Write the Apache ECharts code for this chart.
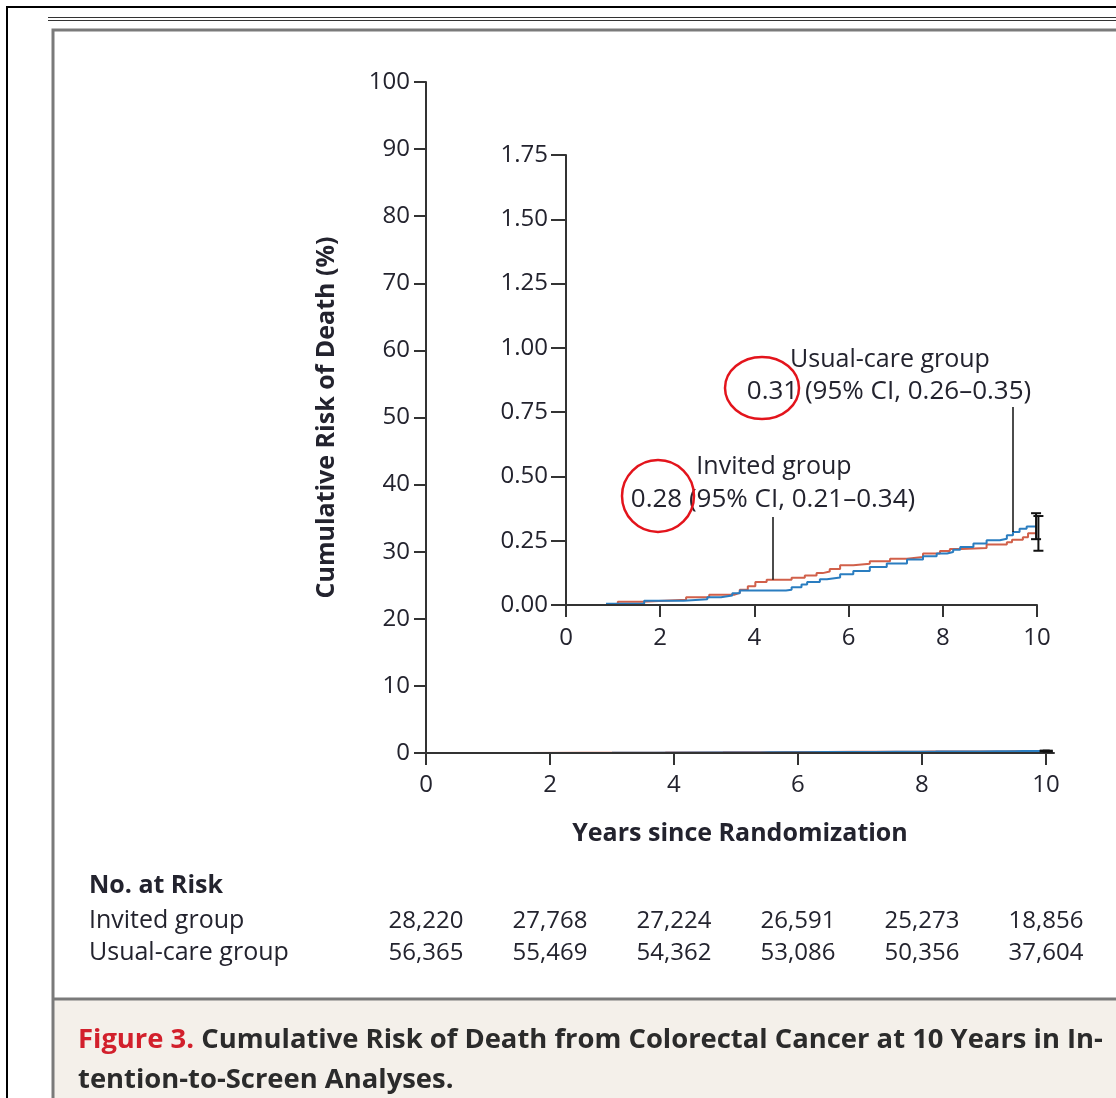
<!DOCTYPE html>
<html>
<head>
<meta charset="utf-8">
<script src="https://cdn.jsdelivr.net/npm/echarts@6/dist/echarts.min.js"></script>
<style>html,body{margin:0;padding:0;background:#fff}#c{width:1116px;height:1098px}</style>
</head>
<body>
<div id="c"></div>
<script>
// ---- data ----
const invitedCurve = [[1.0,0.004],[1.1,0.013],[1.62,0.02],[2.55,0.03],[3.04,0.04],[3.57,0.047],[3.69,0.059],[3.86,0.073],[4.02,0.089],[4.26,0.098],[4.79,0.106],[5.07,0.115],[5.32,0.124],[5.45,0.13],[5.6,0.14],[5.82,0.155],[6.1,0.16],[6.45,0.17],[6.88,0.18],[7.24,0.187],[7.58,0.2],[7.94,0.21],[8.15,0.218],[8.4,0.222],[8.93,0.235],[9.36,0.244],[9.47,0.254],[9.7,0.263],[9.81,0.279],[10.0,0.28]];
const usualCurve = [[0.85,0.005],[1.66,0.017],[2.5,0.022],[3.0,0.03],[3.29,0.037],[3.53,0.046],[3.69,0.056],[4.67,0.059],[4.79,0.069],[5.0,0.08],[5.12,0.089],[5.39,0.1],[5.54,0.107],[5.82,0.12],[6.1,0.132],[6.45,0.148],[6.81,0.161],[7.24,0.177],[7.58,0.19],[7.87,0.2],[8.09,0.206],[8.22,0.215],[8.37,0.226],[8.65,0.239],[8.93,0.252],[9.21,0.258],[9.36,0.271],[9.49,0.284],[9.63,0.297],[9.78,0.305],[10.0,0.305]];
const errorBars = [[9.98,0.256,0.357],[10.03,0.211,0.346]]; // [year, low, high]
const leaderUsual = [9.49, 0.284, 0.77];
const leaderInvited = [4.4, 0.098, 0.342];
const xTickYears = [0,2,4,6,8,10];
const atRiskYears = [0,2,4,6,8,10];
const invitedAtRisk = [28220,27768,27224,26591,25273,18856];
const usualAtRisk = [56365,55469,54362,53086,50356,37604];
const riskRows = ['Usual-care group','Invited group'];

const FONT = "'Open Sans','Noto Sans',sans-serif";
const TXT = '#23232e';
const AX = '#333';
const BLUE = '#2a7dc0';
const RED = '#d1604a';

const atRiskData = [];
atRiskYears.forEach((y,i)=>{
  atRiskData.push([y,'Invited group',invitedAtRisk[i]]);
  atRiskData.push([y,'Usual-care group',usualAtRisk[i]]);
});

function errRender(params, api){
  const x = api.value(0), lo = api.value(1), hi = api.value(2);
  const p1 = api.coord([x, lo]), p2 = api.coord([x, hi]);
  const w = 5;
  const st = {stroke:'#111', lineWidth:2};
  return {type:'group', children:[
    {type:'line', shape:{x1:p1[0],y1:p1[1],x2:p2[0],y2:p2[1]}, style:st},
    {type:'line', shape:{x1:p1[0]-w,y1:p1[1],x2:p1[0]+w,y2:p1[1]}, style:st},
    {type:'line', shape:{x1:p2[0]-w,y1:p2[1],x2:p2[0]+w,y2:p2[1]}, style:st}
  ]};
}

const axisText = {color:TXT, fontFamily:FONT, fontSize:24};
const CAPF = "bold 27.4px 'Open Sans',sans-serif";
const chart = echarts.init(document.getElementById('c'), null, {renderer:'canvas'});
chart.setOption({
  animation:false,
  backgroundColor:'#fff',
  grid:[
    {left:426, top:82, width:628, height:671},
    {left:566, top:155, width:471, height:450},
    {left:426, top:905, width:628, height:64}
  ],
  xAxis:[
    {gridIndex:0, type:'value', min:0, max:10.13, z:5,
     axisLine:{lineStyle:{color:AX,width:2}},
     axisTick:{length:12, lineStyle:{color:AX,width:2}, customValues:xTickYears},
     axisLabel:Object.assign({margin:20, customValues:xTickYears}, axisText),
     splitLine:{show:false},
     name:'Years since Randomization', nameLocation:'middle', nameGap:68,
     nameTextStyle:{color:TXT, fontFamily:FONT, fontSize:25, fontWeight:'bold'}},
    {gridIndex:1, type:'value', min:0, max:10, interval:2, z:5,
     axisLine:{lineStyle:{color:AX,width:2}},
     axisTick:{length:12, lineStyle:{color:AX,width:2}},
     axisLabel:Object.assign({margin:21}, axisText),
     splitLine:{show:false}},
    {gridIndex:2, type:'value', min:0, max:10.13, show:false}
  ],
  yAxis:[
    {gridIndex:0, type:'value', min:0, max:100, interval:10,
     axisLine:{show:true, lineStyle:{color:AX,width:2}},
     axisTick:{show:true, length:12, lineStyle:{color:AX,width:2}},
     axisLabel:Object.assign({margin:16}, axisText),
     splitLine:{show:false},
     name:'Cumulative Risk of Death (%)', nameLocation:'middle', nameGap:87, nameRotate:90,
     nameTextStyle:{color:TXT, fontFamily:FONT, fontSize:25, fontWeight:'bold'}},
    {gridIndex:1, type:'value', min:0, max:1.75, interval:0.25,
     axisLine:{show:true, lineStyle:{color:AX,width:2}},
     axisTick:{show:true, length:15, lineStyle:{color:AX,width:2}},
     axisLabel:Object.assign({margin:18, formatter:v=>v.toFixed(2)}, axisText),
     splitLine:{show:false}},
    {gridIndex:2, type:'category', data:riskRows,
     axisLine:{show:false}, axisTick:{show:false}, splitLine:{show:false},
     axisLabel:{show:true, interval:0, hideOverlap:false, align:'left', margin:337, color:TXT, fontFamily:FONT, fontSize:25}}
  ],
  series:[
    {type:'line', xAxisIndex:0, yAxisIndex:0, step:'end', data:invitedCurve, showSymbol:false, lineStyle:{color:RED,width:2}, z:2},
    {type:'line', xAxisIndex:0, yAxisIndex:0, step:'end', data:usualCurve, showSymbol:false, lineStyle:{color:BLUE,width:2}, z:2},
    {type:'custom', xAxisIndex:0, yAxisIndex:0, renderItem:errRender, data:errorBars, clip:false, z:6},
    {type:'line', xAxisIndex:1, yAxisIndex:1, step:'end', data:invitedCurve, showSymbol:false, lineStyle:{color:RED,width:2}, z:3,
     markLine:{silent:true, symbol:['none','none'], label:{show:false}, lineStyle:{color:'#111',width:1.5,type:'solid'},
       data:[[{coord:[leaderInvited[0],leaderInvited[1]]},{coord:[leaderInvited[0],leaderInvited[2]]}]]}},
    {type:'line', xAxisIndex:1, yAxisIndex:1, step:'end', data:usualCurve, showSymbol:false, lineStyle:{color:BLUE,width:2}, z:3,
     markLine:{silent:true, symbol:['none','none'], label:{show:false}, lineStyle:{color:'#111',width:1.5,type:'solid'},
       data:[[{coord:[leaderUsual[0],leaderUsual[1]]},{coord:[leaderUsual[0],leaderUsual[2]]}]]}},
    {type:'custom', xAxisIndex:1, yAxisIndex:1, renderItem:errRender, data:errorBars, clip:false, z:6},
    {type:'scatter', xAxisIndex:2, yAxisIndex:2, data:atRiskData, symbolSize:1, itemStyle:{color:'transparent'},
     label:{show:true, position:'inside', color:TXT, opacity:1, textBorderWidth:0, fontFamily:FONT, fontSize:24,
       formatter:p=>p.value[2].toLocaleString('en-US')}}
  ],
  graphic:[
    {type:'rect', z:100, shape:{x:7,y:7,width:1200,height:1200}, style:{fill:null, stroke:'#000', lineWidth:2}},
    {type:'line', z:100, shape:{x1:48,y1:17.5,x2:1116,y2:17.5}, style:{stroke:'#333', lineWidth:1}},
    {type:'line', z:100, shape:{x1:48,y1:20.5,x2:1116,y2:20.5}, style:{stroke:'#333', lineWidth:1}},
    {type:'rect', z:99, shape:{x:53,y:1000,width:1100,height:120}, style:{fill:'#f4f0ea'}},
    {type:'rect', z:100, shape:{x:53,y:30,width:1200,height:1200}, style:{fill:null, stroke:'#7a7a7a', lineWidth:3}},
    {type:'line', z:100, shape:{x1:53,y1:999,x2:1116,y2:999}, style:{stroke:'#7a7a7a', lineWidth:3}},
    {type:'text', z:100, x:78, y:1040, style:{text:'{r|Figure 3.} Cumulative Risk of Death from Colorectal Cancer at 10 Years in In-', fill:'#2b2b2b', font:CAPF, verticalAlign:'middle',
      rich:{r:{fill:'#d2202c', font:CAPF}}}},
    {type:'text', z:100, x:78, y:1080, style:{text:'tention-to-Screen Analyses.', fill:'#2b2b2b', font:CAPF, verticalAlign:'middle'}},
    {type:'text', z:100, x:89, y:886, style:{text:'No. at Risk', fill:TXT, font:"bold 25px "+FONT, verticalAlign:'middle'}},
    {type:'text', z:100, x:890, y:360, style:{text:'Usual-care group', fill:TXT, font:"25px "+FONT, align:'center', verticalAlign:'middle'}},
    {type:'text', z:100, x:889, y:392, style:{text:'0.31 (95% CI, 0.26\u20130.35)', fill:TXT, font:"26px "+FONT, align:'center', verticalAlign:'middle'}},
    {type:'text', z:100, x:774, y:467, style:{text:'Invited group', fill:TXT, font:"25px "+FONT, align:'center', verticalAlign:'middle'}},
    {type:'text', z:100, x:773, y:500, style:{text:'0.28 (95% CI, 0.21\u20130.34)', fill:TXT, font:"26px "+FONT, align:'center', verticalAlign:'middle'}},
    {type:'ellipse', z:101, shape:{cx:762,cy:388,rx:37,ry:31}, style:{fill:null, stroke:'#e3141c', lineWidth:2.5}},
    {type:'ellipse', z:101, shape:{cx:658,cy:496,rx:36,ry:36}, style:{fill:null, stroke:'#e3141c', lineWidth:2.5}}
  ]
});
</script>
</body>
</html>
